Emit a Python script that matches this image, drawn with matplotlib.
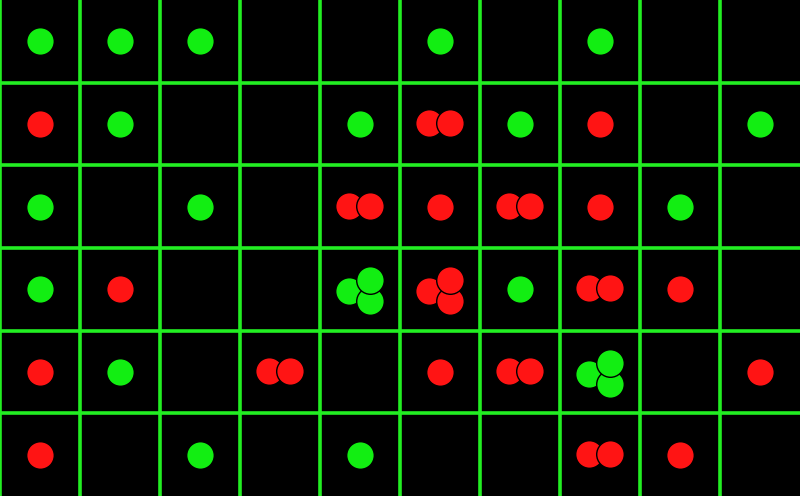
import matplotlib
matplotlib.use("Agg")
import matplotlib.pyplot as plt

# Grid dimensions
n_cols = 10
n_rows = 6

# Cell contents: row index (top=0), column index, colour class, number of dots
cell_rows = [0, 0, 0, 0, 0,
             1, 1, 1, 1, 1, 1, 1,
             2, 2, 2, 2, 2, 2, 2,
             3, 3, 3, 3, 3, 3, 3,
             4, 4, 4, 4, 4, 4, 4,
             5, 5, 5, 5, 5]
cell_cols = [0, 1, 2, 5, 7,
             0, 1, 4, 5, 6, 7, 9,
             0, 2, 4, 5, 6, 7, 8,
             0, 1, 4, 5, 6, 7, 8,
             0, 1, 3, 5, 6, 7, 9,
             0, 2, 4, 7, 8]
cell_kind = ["g", "g", "g", "g", "g",
             "r", "g", "g", "r", "g", "r", "g",
             "g", "g", "r", "r", "r", "r", "g",
             "g", "r", "g", "r", "g", "r", "r",
             "r", "g", "r", "r", "r", "g", "r",
             "r", "g", "g", "r", "r"]
cell_count = [1, 1, 1, 1, 1,
              1, 1, 1, 2, 1, 1, 1,
              1, 1, 2, 1, 2, 1, 1,
              1, 1, 3, 3, 1, 2, 1,
              1, 1, 2, 1, 2, 3, 1,
              1, 1, 1, 2, 1]

# Style
BG = "#000000"
LINE = "#22ee22"
COLORS = {"g": "#12ee12", "r": "#ff1414"}
W, H, DPI = 800, 496, 100
px_x = n_cols / W          # data units per pixel, x
px_y = n_rows / H          # data units per pixel, y
# dot layouts in pixel offsets (drawing order)
LAYOUTS = {
    1: [(0, 0)],
    2: [(-11, -1), (10, -1)],
    3: [(-11, 2), (10, 12), (10, -9)],
}
DOT_S = 395

fig = plt.figure(figsize=(W / DPI, H / DPI), dpi=DPI, facecolor=BG)
ax = fig.add_axes([0, 0, 1, 1])
ax.set_facecolor(BG)
ax.set_xlim(0, n_cols)
ax.set_ylim(n_rows, 0)
ax.axis("off")

for c in range(0, n_cols):
    ax.axvline(c, color=LINE, lw=2.6, zorder=1)
for r in range(1, n_rows):
    ax.axhline(r, color=LINE, lw=2.6, zorder=1)

z = 2
for r, c, k, n in zip(cell_rows, cell_cols, cell_kind, cell_count):
    cx, cy = c + 0.5, r + 0.5
    for dx, dy in LAYOUTS[n]:
        ax.scatter([cx + dx * px_x], [cy + dy * px_y], s=DOT_S,
                   color=COLORS[k], edgecolors="black", linewidths=1.0,
                   zorder=z)
        z += 1

fig.savefig("out.png", dpi=DPI, facecolor=BG)
